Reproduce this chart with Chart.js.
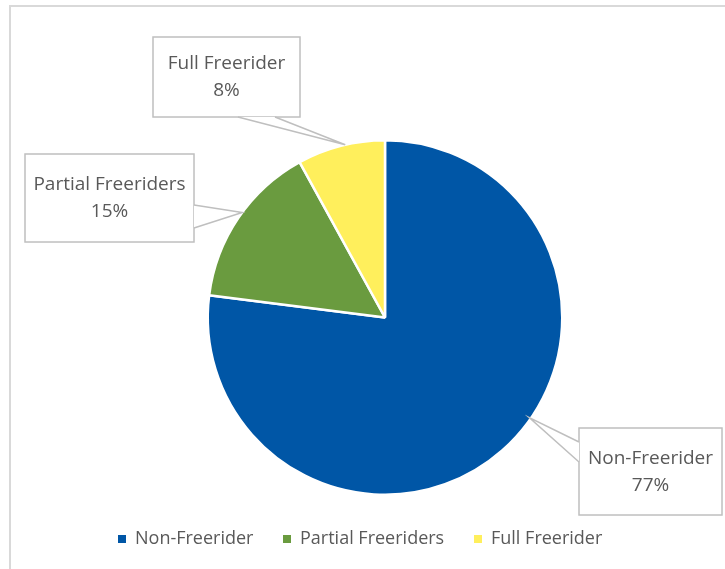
<!DOCTYPE html>
<html>
<head>
<meta charset="utf-8">
<script src="https://cdn.jsdelivr.net/npm/chart.js@4/dist/chart.umd.min.js"></script>
<style>
  html, body { margin: 0; padding: 0; background: #ffffff; }
  #wrap { position: relative; width: 725px; height: 569px; }
  canvas { display: block; }
</style>
</head>
<body>
<div id="wrap"><canvas id="pie" width="725" height="569"></canvas></div>
<script>
// Respondent groups and their shares (%)
const categories = ['Non-Freerider', 'Partial Freeriders', 'Full Freerider'];
const shares = [77, 15, 8];
const sliceColors = ['#0056A6', '#6A9B3F', '#FFEF5C'];

const TEXT = '#595959';
const LINE = '#BFBFBF';
const FONT = '"Open Sans", "Liberation Sans", sans-serif';

// Callout boxes (x, y, w, h), where the leader leaves the box,
// and where along the slice (fraction of its sweep) the leader lands.
const callouts = [
  { box: [579, 428, 143, 87], side: 'left',   base: [442, 462], at: 0.45, rf: 0.99 },
  { box: [25, 154, 169, 88],  side: 'right',  base: [205, 228], at: 0.54, rf: 1.0 },
  { box: [153, 37, 147, 80],  side: 'bottom', base: [238, 275], at: 0.55, rf: 1.0 }
];

const frame = {
  id: 'frame',
  beforeDraw(chart) {
    const c = chart.ctx;
    c.save();
    c.fillStyle = '#ffffff';
    c.fillRect(0, 0, chart.width, chart.height);
    c.strokeStyle = '#D9D9D9';
    c.lineWidth = 2;
    c.beginPath();
    c.moveTo(10, chart.height);
    c.lineTo(10, 6);
    c.lineTo(chart.width, 6);
    c.stroke();
    c.restore();
  }
};

const labelsAndLegend = {
  id: 'labelsAndLegend',
  afterDatasetsDraw(chart) {
    const c = chart.ctx;
    const meta = chart.getDatasetMeta(0);
    const total = shares.reduce((a, b) => a + b, 0);
    c.save();
    meta.data.forEach((arc, i) => {
      const cfg = callouts[i];
      const ang = arc.startAngle + (arc.endAngle - arc.startAngle) * cfg.at;
      const r = arc.outerRadius * cfg.rf;
      const tx = arc.x + Math.cos(ang) * r;
      const ty = arc.y + Math.sin(ang) * r;
      const [bx, by, bw, bh] = cfg.box;
      let p1, p2;
      if (cfg.side === 'left') { p1 = [bx, cfg.base[0]]; p2 = [bx, cfg.base[1]]; }
      else if (cfg.side === 'right') { p1 = [bx + bw, cfg.base[0]]; p2 = [bx + bw, cfg.base[1]]; }
      else { p1 = [cfg.base[0], by + bh]; p2 = [cfg.base[1], by + bh]; }

      // box with pointer
      c.fillStyle = '#ffffff';
      c.strokeStyle = LINE;
      c.lineWidth = 1.5;
      c.fillRect(bx, by, bw, bh);
      c.strokeRect(bx, by, bw, bh);
      c.beginPath();
      c.moveTo(p1[0], p1[1]);
      c.lineTo(tx, ty);
      c.lineTo(p2[0], p2[1]);
      c.closePath();
      c.fill();
      c.beginPath();
      c.moveTo(p1[0], p1[1]);
      c.lineTo(tx, ty);
      c.lineTo(p2[0], p2[1]);
      c.stroke();

      // text
      const pct = Math.round(shares[i] / total * 100) + '%';
      c.fillStyle = TEXT;
      c.font = '19px ' + FONT;
      c.textAlign = 'center';
      c.textBaseline = 'middle';
      const cx = bx + bw / 2, cy = by + bh / 2;
      c.fillText(categories[i], cx, cy - 13);
      c.fillText(pct, cx, cy + 14);
    });

    // legend
    const ly = 539;
    const xs = [118, 283, 474];
    c.font = '18px ' + FONT;
    c.textAlign = 'left';
    c.textBaseline = 'middle';
    categories.forEach((name, i) => {
      c.fillStyle = sliceColors[i];
      c.fillRect(xs[i], ly - 4, 8, 8);
      c.fillStyle = TEXT;
      c.fillText(name, xs[i] + 17, ly);
    });
    c.restore();
  }
};

new Chart(document.getElementById('pie'), {
  type: 'pie',
  data: {
    labels: categories,
    datasets: [{
      data: shares,
      backgroundColor: sliceColors,
      borderColor: '#ffffff',
      borderWidth: 2.5
    }]
  },
  options: {
    responsive: false,
    animation: false,
    events: [],
    layout: { padding: { left: 206, right: 161, top: 139, bottom: 73 } },
    plugins: {
      legend: { display: false },
      tooltip: { enabled: false }
    }
  },
  plugins: [frame, labelsAndLegend]
});
</script>
</body>
</html>
